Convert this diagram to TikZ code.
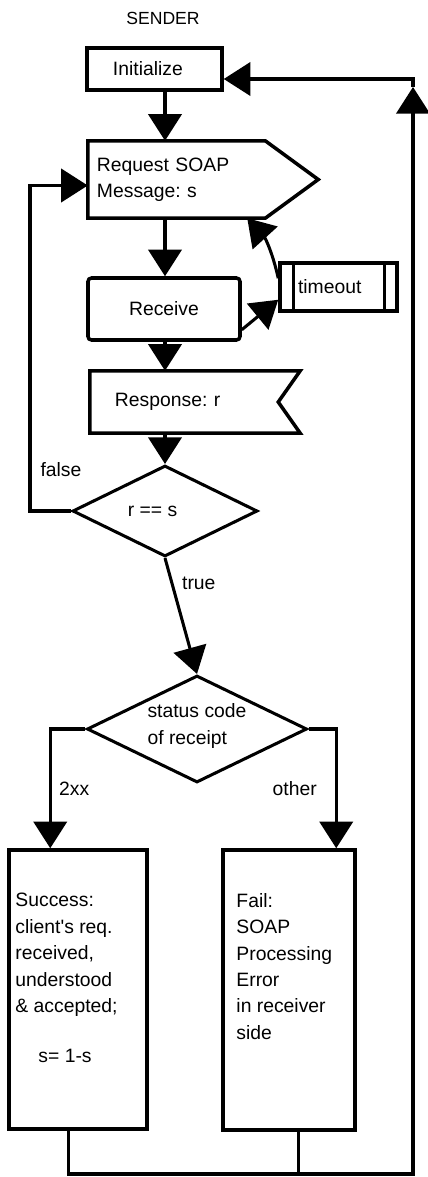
\documentclass[tikz,border=0pt]{standalone}
\usepackage{fontspec}
\setmainfont{Liberation Sans}
\usetikzlibrary{arrows.meta,shapes.geometric,calc}

\tikzset{
  flow/.style={line width=2.6pt},
  arr/.style={flow, -{Triangle[length=0.8cm,width=1.0cm]}},
  box/.style={draw, line width=3pt, rectangle, inner sep=0pt},
  plain/.style={draw=none, inner sep=0pt, align=left},
  decision/.style={draw, line width=2.6pt, diamond, inner sep=0pt, align=left}
}

\begin{document}
\frenchspacing
\begin{tikzpicture}[x=0.03cm, y=-0.03cm, font=\fontsize{16.5}{22.5}\selectfont]
\useasboundingbox (0,0) rectangle (428,1177);
\coordinate (spine) at (165,0);
\coordinate (lp) at (30,0);
\coordinate (rt) at (413,79);
\coordinate (rb) at (413,1174);

% sender side
\node[font=\fontsize{15}{18}\selectfont] (sender) at (163,18) {SENDER};
\node[box, minimum width=4.05cm, minimum height=1.26cm, text width=2.49cm, inner xsep=0.78cm, align=left] (init) at (154.5,69) {Initialize};
\node[plain, minimum height=2.31cm, text width=4.77cm, inner xsep=0.27cm] (req) at (176.5,179.5) {Request SOAP\\Message: s};
\draw[flow, line width=3pt] (req.north west) -- (req.north east) -- ($(req.east)+(53,0)$) -- (req.south east) -- (req.south west) -- cycle;
\node[box, rounded corners=3pt, minimum width=4.56cm, minimum height=1.86cm] (rec) at (164,309) {Receive};
\node[box, minimum width=3.51cm, minimum height=1.44cm, text width=2.43cm, inner xsep=0.54cm, align=left] (tmo) at (338.5,287) {timeout};
\draw[flow] ($(tmo.north west)+(15,0)$) -- ($(tmo.south west)+(15,0)$);
\draw[flow] ($(tmo.north east)+(-14,0)$) -- ($(tmo.south east)+(-14,0)$);
\node[plain, minimum height=1.86cm, text width=4.8cm, inner xsep=0.75cm] (resp) at (195,402) {Response: r};
\draw[flow, line width=3pt] (resp.north west) -- (resp.north east) -- ($(resp.east)+(-22,0)$) -- (resp.south east) -- (resp.south west) -- cycle;

% decisions
\node[decision, minimum width=5.55cm, minimum height=2.73cm, shape aspect=2] (dia1) at (165,511) {r == s\hspace*{0.75cm}};
\node[decision, minimum width=6.6cm, minimum height=3.21cm, shape aspect=2.06] (dia2) at (197,729) {status code\\of receipt\\[-0.5cm]};

% results
\node[box, minimum width=4.14cm, minimum height=8.37cm] (succ) at (78,989.5) {};
\node[box, minimum width=3.96cm, minimum height=8.4cm] (fail) at (289,990) {};
\node[plain, anchor=north west] (succtxt) at ($(succ.north west)+(8,45)$) {Success:\\client\textquotesingle s req.\\received,\\understood\\\& accepted;\\[20pt]\hspace*{0.69cm}s= 1-s};
\node[plain, anchor=north west] (failtxt) at ($(fail.north west)+(15,45)$) {Fail:\\SOAP\\Processing\\Error\\in receiver\\side};

% connectors
\draw[arr] (init.south -| spine) -- (req.north -| spine);
\draw[arr] (req.south -| spine) -- (rec.north -| spine);
\draw[arr] ($(rec.south east)+(0,-12)$) -- ($(tmo.south west)+(0,-13)$);
\draw[arr] ($(tmo.north west)+(0,17)$) to[bend right=15] ($(req.south east)+(-18,0)$);
\draw[arr] (rec.south -| spine) -- (resp.north -| spine);
\draw[arr] (resp.south -| spine) -- (dia1.north);
\draw[arr] (dia1.west) -- (dia1.west -| lp) |- ($(req.west)+(0,6)$);
\node (lblfalse) at (61,470) {false};
\draw[arr] (dia1.south) -- node[right=4pt, pos=0.22] (lbltrue) {true} (dia2.north);
\draw[arr] (dia2.west) -| node[right=3pt, pos=0.75] (lbl2xx) {2xx} ($(succ.north west)+(43,0)$);
\draw[arr] (dia2.east) -| node[left=12pt, pos=0.75] (lblother) {other} ($(fail.north west)+(115,0)$);

% back to start
\coordinate (succout) at ($(succ.south west)+(61,0)$);
\coordinate (failout) at ($(fail.south west)+(77,0)$);
\draw[arr] (succout) |- (rb) -- ($(rt)+(0,8)$);
\draw[flow] (failout) -- (failout |- rb);
\draw[arr] ($(rt)+(0,8)$) -- (rt) -- ($(init.east)+(0,10)$);
\end{tikzpicture}
\end{document}
